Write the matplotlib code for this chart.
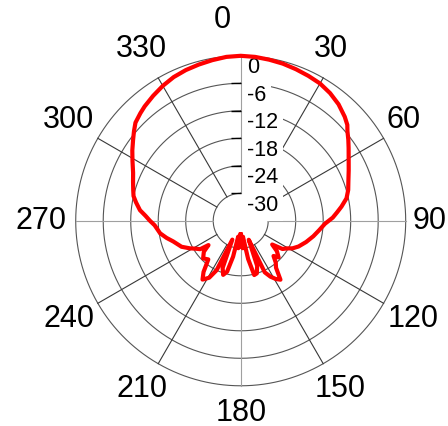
import numpy as np
import matplotlib
matplotlib.use("Agg")
import matplotlib.pyplot as plt

plt.rcParams['font.family'] = ['Liberation Sans', 'DejaVu Sans']

# radiation pattern (angle in degrees, gain in dB)
angle_deg = [-180, -175, -171, -168, -165, -162, -159, -156, -154, -151,
             -147, -144, -140, -135, -130, -127, -125, -122, -118.5, -113.7,
             -107, -103, -98.8, -93, -90, -87, -84, -80, -77, -74,
             -70, -66, -61, -57, -53, -50, -47, -43, -40, -35,
             -30, -25, -20, -15, -10, -5, 0,
             5, 10, 15, 20, 25, 30, 35, 40, 45, 48,
             50, 53, 56, 60, 65, 70, 74, 78, 82, 85,
             88, 90, 92, 97, 102, 108, 114, 118, 121, 124,
             127, 130, 134, 137, 140, 143, 146, 149, 152, 155,
             157, 160, 163, 166, 169, 172, 176, 180]
gain_db = [-33, -30, -32.5, -28, -24.5, -23.6, -25, -31.5, -24, -21.8,
           -20.7, -22.2, -25, -24.4, -25.5, -27.2, -25.2, -24.5, -23.4, -21.9,
           -20.6, -19.4, -18.2, -17.2, -16.2, -15.2, -13.9, -12.8, -12.0, -11.6,
           -11.0, -10.3, -9.0, -7.8, -6.6, -5.6, -4.6, -3.9, -3.4, -2.7,
           -2.0, -1.4, -1.0, -0.7, -0.4, -0.1, 0,
           -0.1, -0.3, -0.5, -0.8, -1.1, -1.4, -2.0, -2.8, -3.9, -4.7,
           -5.6, -6.6, -7.6, -8.8, -10.0, -11.0, -11.6, -12.4, -13.8, -14.9,
           -15.9, -16.8, -17.6, -18.8, -19.8, -21.0, -22.2, -23.2, -24.3, -25.0,
           -27.4, -25.7, -24.5, -25.5, -24.1, -23.2, -20.5, -21.2, -22.2, -23.6,
           -31.5, -25.5, -24.0, -23.8, -27.5, -32.5, -30, -33]

r_ticks = [0, -6, -12, -18, -24, -30]
r_labels = ['0', '-6', '-12', '-18', '-24', '-30']
theta_ticks = list(range(0, 360, 30))
theta_labels = [str(t) for t in theta_ticks]
# small nudges (pixels) of the angle labels, as in the original
theta_nudge = [(-18, 6), (-7, 4), (-5, 4), (-5, 0), (4, -1), (2, 0),
               (0, 2), (-2, 0), (-3, -1), (-5, 0), (-4, 4), (-2, 4)]

fig = plt.figure(figsize=(4.48, 4.26), dpi=100)
ax = fig.add_axes([0.169, 0.0944, 0.7366, 0.7746], projection='polar')
ax.set_theta_zero_location('N')
ax.set_theta_direction(-1)
ax.set_ylim(-36, 0)
ax.grid(False)
ax.set_xticks([])
ax.set_yticks([])
ax.spines['polar'].set_visible(False)

# grid circles
circ = np.linspace(0, 2 * np.pi, 721)
for r in r_ticks:
    ax.plot(circ, np.full_like(circ, r), color='#555555', lw=0.8,
            clip_on=False, zorder=1)

# spokes
for t in theta_ticks:
    col = '#a0a0a0' if t % 90 == 0 else '#383838'
    ax.plot([np.radians(t)] * 2, [r_ticks[-1], r_ticks[0]], color=col,
            lw=0.8, clip_on=False, zorder=1 if t else 4)

# radial labels with white boxes
for r, lab in zip(r_ticks, r_labels):
    ax.annotate(lab, xy=(0, r), xytext=(6, -12), textcoords='offset pixels',
                ha='left', va='center', fontsize=15.5, zorder=3,
                bbox=dict(boxstyle='square,pad=0.25', fc='white', ec='none'))
ax.plot(np.zeros(len(r_ticks)), r_ticks, linestyle='none', marker=0,
        ms=7, mew=1, color='black', clip_on=False, zorder=4)

# angle labels
for t, lab, (dx, dy) in zip(theta_ticks, theta_labels, theta_nudge):
    ax.annotate(lab, xy=(np.radians(t), 6.4), xytext=(dx, dy),
                textcoords='offset pixels', ha='center', va='center',
                fontsize=22, annotation_clip=False)

ax.plot(np.radians(angle_deg), gain_db, color='#ff0000', lw=3,
        clip_on=False, zorder=5)

fig.savefig('out.png', dpi=100)
